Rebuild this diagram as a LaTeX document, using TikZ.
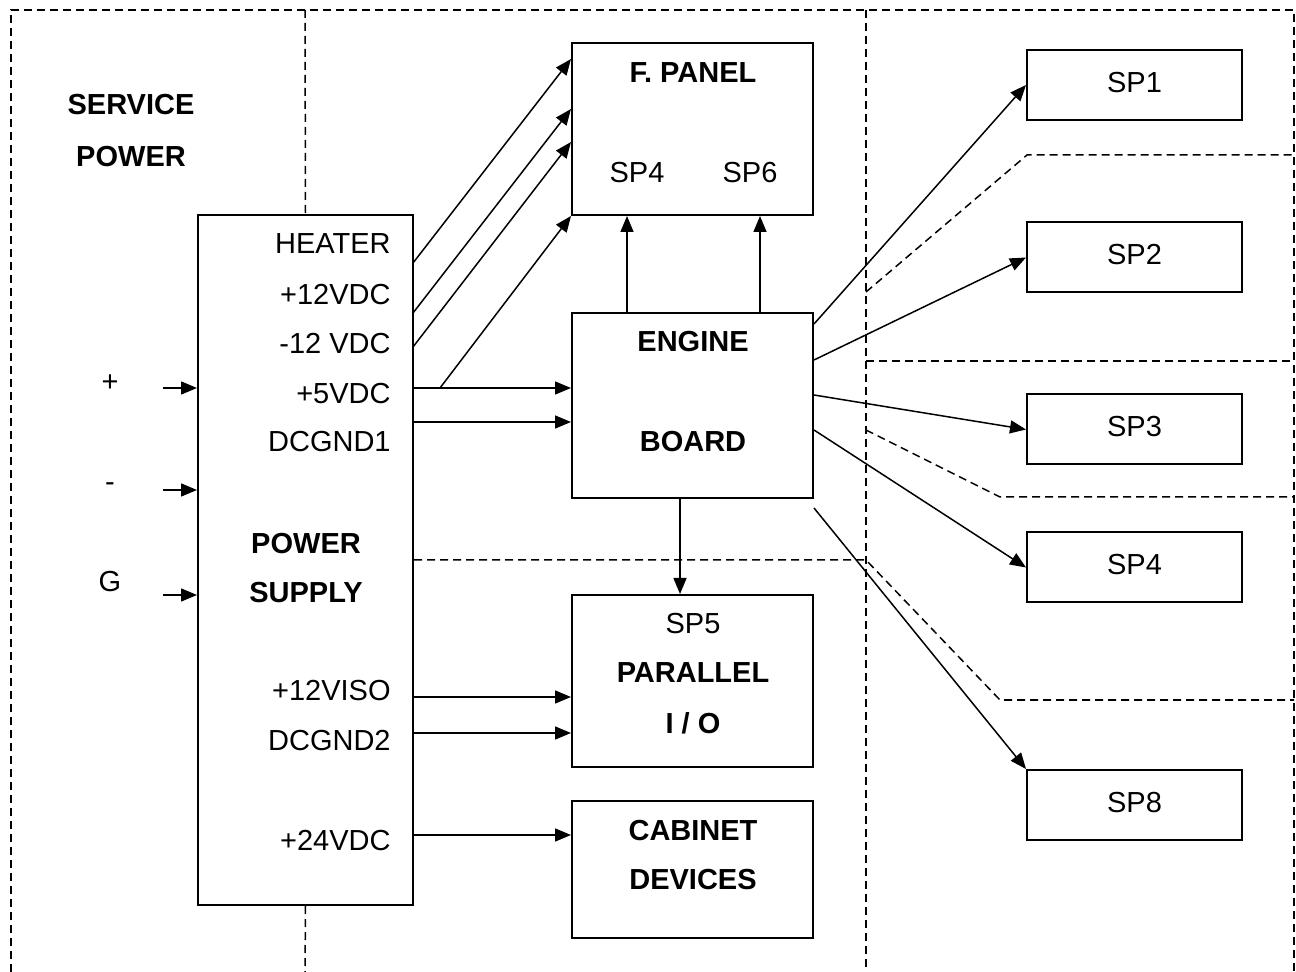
\documentclass[tikz,border=0pt]{standalone}
\usepackage{fontspec}
\setmainfont{Liberation Sans}
\usetikzlibrary{arrows.meta,calc}

\begin{document}
\begin{tikzpicture}[x=0.5pt,y=-0.5pt,
  box/.style={draw,line width=1pt,inner sep=0pt,
    font=\fontsize{14.5}{17}\selectfont,text height=10.4pt,text depth=0pt},
  spbox/.style={box,minimum width=107.5pt,minimum height=35pt,text depth=3pt},
  sig/.style={line width=0.75pt,-{Triangle[length=8pt,width=6.5pt]}},
  zone/.style={line width=0.75pt,dash pattern=on 4pt off 2.5pt},
  txt/.style={font=\fontsize{14.5}{17}\selectfont,inner sep=0pt,text height=10.4pt,text depth=0pt},
  hd/.style={txt,font=\fontsize{14.5}{17}\selectfont\bfseries}]
\useasboundingbox (0,0) rectangle (1296,972);

% zones
\draw[zone] (11,972) -- (11,10) -- (1294,10) -- (1294,972);
\draw[zone] (866,10) -- (866,972);
\draw[zone] (866,292) -- (1027,155) -- (1294,155);
\draw[zone] (866,361) -- (1294,361);
\draw[zone] (866,430) -- (1000,497) -- (1294,497);

% boxes
\node[box,minimum width=107.5pt,minimum height=345pt] (ps) at (305.5,560) {};
\node[box,minimum width=120.5pt,minimum height=86pt] (fp) at (692.5,129) {};
\node[box,minimum width=120.5pt,minimum height=92.5pt] (eb) at (692.5,405.5) {};
\node[box,minimum width=120.5pt,minimum height=86pt] (pio) at (692.5,681) {};
\node[box,minimum width=120.5pt,minimum height=68.5pt] (cab) at (692.5,869.5) {};
\node[spbox] (sp1) at (1134.5,85) {SP1};
\node[spbox] (sp2) at (1134.5,257.5) {SP2};
\node[spbox] (sp3) at (1134.5,429.5) {SP3};
\node[spbox] (sp4) at (1134.5,567.5) {SP4};
\node[spbox] (sp8) at (1134.5,805) {SP8};

\draw[zone] (305,10) -- (ps.north);
\draw[zone] (ps.south) -- (305,972);
\draw[zone] (ps.east) -- (866,560) -- (1000,700) -- (1294,700);

% texts
\node[hd] (tserv) at (131,104) {SERVICE};
\node[hd] (tpow) at (131,156) {POWER};
\node[txt] (tplus) at (110,381) {+};
\node[txt] (tminus) at (110,481) {-};
\node[txt] (tg) at (110,581) {G};
\node[txt,anchor=east] (lheat) at (391,243) {HEATER};
\node[txt,anchor=east] (l12p) at (391,294) {+12VDC};
\node[txt,anchor=east] (l12n) at (391,343) {-12 VDC};
\node[txt,anchor=east] (l5) at (391,393) {+5VDC};
\node[txt,anchor=east] (lgnd1) at (391,441) {DCGND1};
\node[hd] (lpower) at (306,543) {POWER};
\node[hd] (lsupply) at (306,592) {SUPPLY};
\node[txt,anchor=east] (liso) at (391,690) {+12VISO};
\node[txt,anchor=east] (lgnd2) at (391,740) {DCGND2};
\node[txt,anchor=east] (l24) at (391,840) {+24VDC};
\node[hd] (tfp) at (693,72) {F. PANEL};
\node[txt] (tfpa) at (637,172) {SP4};
\node[txt] (tfpb) at (750,172) {SP6};
\node[hd] (teng) at (693,341) {ENGINE};
\node[hd] (tboard) at (693,441) {BOARD};
\node[txt] (tsp5) at (693,623) {SP5};
\node[hd] (tpar) at (693,672) {PARALLEL};
\node[hd] (tio) at (693,723) {I / O};
\node[hd] (tcab) at (693,830) {CABINET};
\node[hd] (tdev) at (693,879) {DEVICES};

% inputs
\coordinate (iplus) at (163,388);
\coordinate (iminus) at (163,490);
\coordinate (ig) at (163,595);
\foreach \c in {iplus,iminus,ig}
  \draw[sig] (\c) -- (ps.west |- \c);

% supply outputs
\coordinate (oheat) at (413,263);
\coordinate (o12p) at (413,313);
\coordinate (o12n) at (413,347);
\coordinate (o5) at (413,388);
\coordinate (o5b) at (440,388);
\coordinate (ognd1) at (413,422);
\coordinate (oiso) at (413,697);
\coordinate (ognd2) at (413,733);
\coordinate (o24) at (413,835);
\draw[sig] (oheat) -- ($(fp.north west)+(0,17)$);
\draw[sig] (o12p) -- ($(fp.north west)+(0,67)$);
\draw[sig] (o12n) -- ($(fp.north west)+(0,100)$);
\draw[sig] (o5b) -- (fp.south west);
\draw[sig] (o5) -- (eb.west |- o5);
\draw[sig] (ognd1) -- (eb.west |- ognd1);
\draw[sig] (oiso) -- (pio.west |- oiso);
\draw[sig] (ognd2) -- (pio.west |- ognd2);
\draw[sig] (o24) -- (cab.west |- o24);

% engine board
\draw[sig] ($(eb.north)+(-65.5,0)$) -- ($(fp.south)+(-65.5,0)$);
\draw[sig] ($(eb.north)+(67.5,0)$) -- ($(fp.south)+(67.5,0)$);
\draw[sig] ($(eb.south)+(-12.5,0)$) -- ($(pio.north)+(-12.5,0)$);
\draw[sig] ($(eb.north east)+(0,12)$) -- (sp1.west);
\draw[sig] ($(eb.north east)+(0,48)$) -- (sp2.west);
\draw[sig] ($(eb.north east)+(0,83)$) -- (sp3.west);
\draw[sig] ($(eb.north east)+(0,118)$) -- (sp4.west);
\draw[sig] ($(eb.south east)+(0,9)$) -- (sp8.north west);
\end{tikzpicture}
\end{document}
